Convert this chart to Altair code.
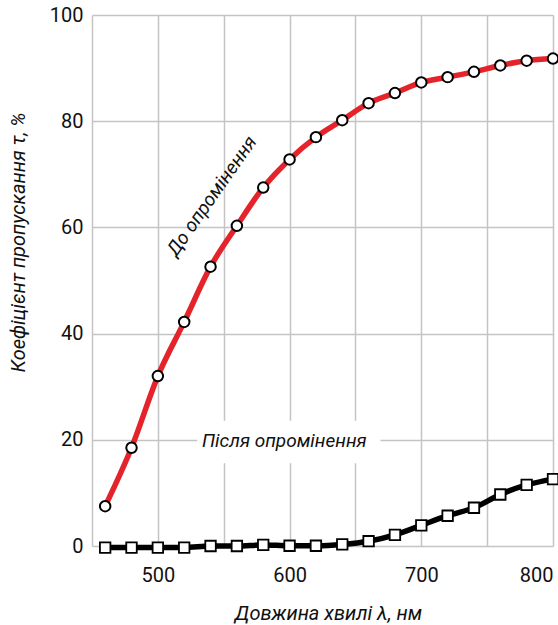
import altair as alt
import pandas as pd

wavelength = [460, 480, 500, 520, 540, 560, 580, 600, 620, 640, 660, 680, 700, 720, 740, 760, 780, 800]
before = [7.5, 18.5, 32.0, 42.2, 52.6, 60.3, 67.5, 72.8, 77.0, 80.2, 83.4, 85.3, 87.3, 88.3, 89.3, 90.5, 91.4, 91.8]
after = [-0.3, -0.3, -0.3, -0.3, 0.0, 0.0, 0.2, 0.05, 0.05, 0.3, 0.9, 2.1, 3.9, 5.7, 7.2, 9.7, 11.5, 12.6]

x_grid = [450, 500, 550, 600, 650, 700, 750, 800]
y_ticks = [0, 20, 40, 60, 80, 100]

label_text = ["До опромінення", "Після опромінення"]
label_x = [541, 596]
label_y = [65.9, 19.8]
label_angle = [305, 0]

mask_x = [530]
mask_x2 = [669]
mask_y = [15.6]
mask_y2 = [23.6]

FONT = "Roboto"
RED = "#e5232a"

df_before = pd.DataFrame({"wl": wavelength, "t": before})
df_after = pd.DataFrame({"wl": wavelength, "t": after})
df_labels = pd.DataFrame({"wl": label_x, "t": label_y, "text": label_text, "angle": label_angle})
df_mask = pd.DataFrame({"x": mask_x, "x2": mask_x2, "y": mask_y, "y2": mask_y2})

xscale = alt.Scale(domain=[450, 800], nice=False, zero=False)
yscale = alt.Scale(domain=[0, 100], nice=False)

xaxis = alt.Axis(
    values=x_grid,
    labelExpr="datum.value % 100 == 0 && datum.value > 450 ? datum.label : ''",
    title="Довжина хвилі λ, нм",
    titleFont=FONT, titleFontSize=20, titleFontStyle="italic", titleFontWeight="normal",
    titleColor="#111", titleX=236, titleY=67, titleAlign="center", titleBaseline="middle",
    labelFont=FONT, labelFontSize=20, labelColor="#111", labelPadding=19,
    ticks=False, domain=False, grid=True, gridColor="#c4c4c4", gridWidth=1.5,
)
yaxis = alt.Axis(
    values=y_ticks,
    title="Коефіцієнт пропускання τ, %",
    titleFont=FONT, titleFontSize=20, titleFontStyle="italic", titleFontWeight="normal",
    titleColor="#111", titleX=-74, titleY=227, titleAlign="center", titleBaseline="middle",
    titleAngle=270,
    labelFont=FONT, labelFontSize=20, labelColor="#111", labelPadding=9,
    ticks=False, domain=False, grid=True, gridColor="#c4c4c4", gridWidth=1.5,
)

base_x = alt.X("wl:Q", scale=xscale, axis=xaxis)
base_y = alt.Y("t:Q", scale=yscale, axis=yaxis)

mask = alt.Chart(df_mask).mark_rect(color="white").encode(
    x=alt.X("x:Q", scale=xscale, axis=xaxis), x2="x2:Q",
    y=alt.Y("y:Q", scale=yscale, axis=yaxis), y2="y2:Q",
)

red_line = alt.Chart(df_before).mark_line(color=RED, strokeWidth=5.5, interpolate="monotone").encode(
    x=base_x, y=base_y
)
red_pts = alt.Chart(df_before).mark_point(
    shape="circle", filled=True, fill="white", stroke="black", strokeWidth=2, size=110, opacity=1
).encode(x=base_x, y=base_y)

black_line = alt.Chart(df_after).mark_line(color="black", strokeWidth=5.5, interpolate="monotone").encode(
    x=base_x, y=base_y
)
black_pts = alt.Chart(df_after).mark_point(
    shape="square", filled=True, fill="white", stroke="black", strokeWidth=1.8, size=110, opacity=1
).encode(x=base_x, y=base_y)

labels = alt.Chart(df_labels).mark_text(
    font=FONT, fontSize=19, fontStyle="italic", color="#111", align="center", baseline="middle"
).encode(x=base_x, y=base_y, text="text:N", angle=alt.Angle("angle:Q", scale=None))

chart = alt.layer(mask, black_line, red_line, black_pts, red_pts, labels).properties(
    width=461, height=531,
    autosize=alt.AutoSizeParams(type="none"),
    padding={"left": 92, "top": 15, "right": 5, "bottom": 79},
    background="white",
).configure_view(stroke=None)

chart.save("out.html", embed_options={"renderer": "svg", "actions": False})
